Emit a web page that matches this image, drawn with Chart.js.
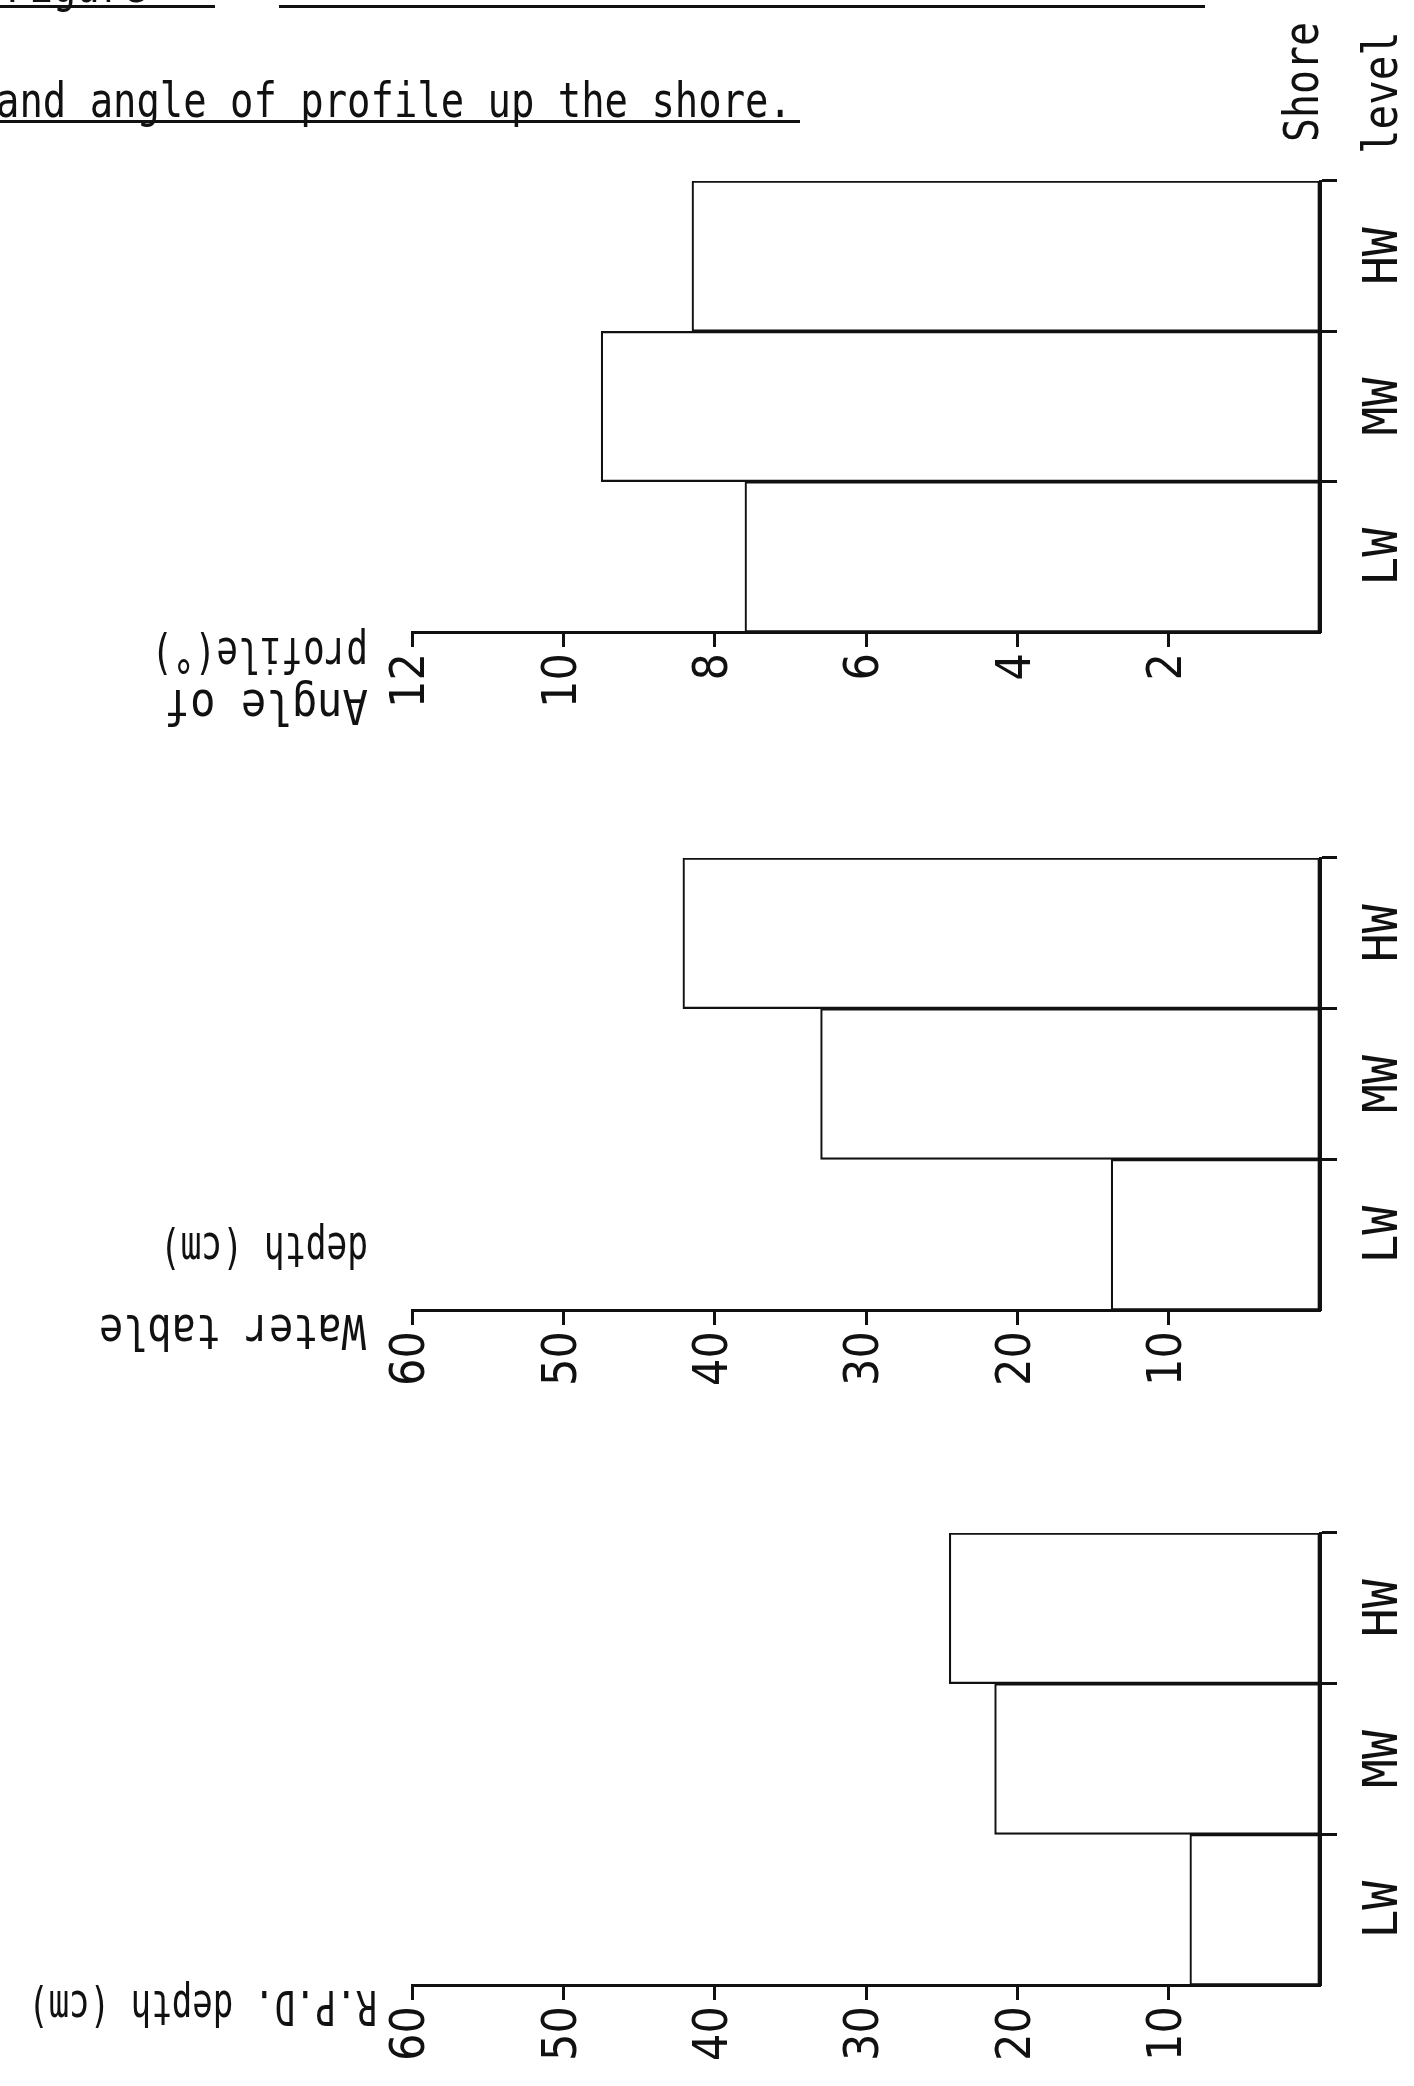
<!DOCTYPE html>
<html>
<head>
<meta charset="utf-8">
<script src="https://cdn.jsdelivr.net/npm/chart.js@4.4.0/dist/chart.umd.min.js"></script>
<style>
  html, body { margin: 0; padding: 0; background: #fff; }
  body { width: 1414px; height: 2086px; position: relative; overflow: hidden; }
  .panel { position: absolute; left: 0; width: 1414px; }
</style>
</head>
<body>
<div class="panel" style="top:0;height:760px"><canvas id="angleChart"></canvas></div>
<div class="panel" style="top:760px;height:680px"><canvas id="waterChart"></canvas></div>
<div class="panel" style="top:1440px;height:646px"><canvas id="rpdChart"></canvas></div>
<script>
// ---- DATA ----
// shore levels, from low water up to high water
const shoreLevels = ["LW", "MW", "HW"];
const angleValues = [7.6, 9.5, 8.3];     // angle of profile (degrees)
const waterValues = [13.8, 33.0, 42.1];  // water table depth (cm)
const rpdValues = [8.6, 21.5, 24.5];     // R.P.D. depth (cm)
const angleTicks = { max: 12, step: 2 };
const depthTicks = { max: 60, step: 10 };

// ---- STYLE ----
const INK = "#111";
const plotFont = "'DejaVu Sans Mono', monospace";
const tickFont = { family: "'Liberation Sans Narrow', 'DejaVu Sans Condensed', sans-serif", size: 48 };

function drawText(ctx, text, x, y, angle, squeeze, align, baseline) {
  ctx.save();
  ctx.translate(x, y);
  ctx.rotate(angle);
  ctx.scale(squeeze, 1);
  ctx.font = "48px " + plotFont;
  ctx.fillStyle = INK;
  ctx.textAlign = align;
  ctx.textBaseline = baseline;
  ctx.fillText(text, 0, 0);
  ctx.restore();
}

// texts: extra labels drawn on top (axis titles, headings); rules: underline bars
function textPlugin(texts, rules) {
  return {
    id: "plotText",
    afterDraw(chart) {
      const ctx = chart.ctx;
      // shore level labels, turned like the rest of the sheet
      const ys = chart.scales.y;
      chart.data.labels.forEach((lab, i) => {
        drawText(ctx, lab, 1397, ys.getPixelForTick(i), -Math.PI / 2, 1, "center", "alphabetic");
      });
      texts.forEach(t => drawText(ctx, t.text, t.x, t.y, t.angle, t.squeeze, t.align, t.baseline));
      ctx.save();
      ctx.fillStyle = INK;
      rules.forEach(r => ctx.fillRect(r[0], r[1], r[2], r[3]));
      ctx.restore();
    }
  };
}

function makeChart(id, values, range, frame, texts, rules) {
  return new Chart(document.getElementById(id), {
    type: "bar",
    data: {
      labels: shoreLevels,
      datasets: [{
        data: values,
        backgroundColor: "rgba(0,0,0,0)",
        borderColor: INK,
        borderWidth: 1.5,
        borderSkipped: false,
        categoryPercentage: 1,
        barPercentage: 1
      }]
    },
    options: {
      indexAxis: "y",
      responsive: true,
      maintainAspectRatio: false,
      animation: false,
      layout: { padding: { left: 412, top: frame.top, right: 0, bottom: 0 } },
      plugins: { legend: { display: false }, tooltip: { enabled: false } },
      scales: {
        x: {
          type: "linear",
          reverse: true,
          min: 0,
          max: range.max,
          position: "bottom",
          ticks: {
            stepSize: range.step,
            minRotation: 90,
            maxRotation: 90,
            padding: 6,
            color: INK,
            font: tickFont,
            callback: v => (v === 0 ? "" : v)
          },
          grid: {
            drawOnChartArea: false,
            drawTicks: true,
            tickLength: 15,
            tickWidth: 3,
            tickColor: c => (c.tick && c.tick.value === 0 ? "rgba(0,0,0,0)" : INK)
          },
          border: { display: true, color: INK, width: 3 },
          afterFit: s => { s.height = frame.xHeight; }
        },
        y: {
          type: "category",
          reverse: true,
          position: "right",
          offset: true,
          ticks: { display: false },
          grid: {
            offset: true,
            drawOnChartArea: false,
            drawTicks: true,
            tickLength: 17,
            tickWidth: 3,
            tickColor: c => (c.index === 0 ? "rgba(0,0,0,0)" : INK)
          },
          border: { display: true, color: INK, width: 3 },
          afterFit: s => { s.width = 94; }
        }
      }
    },
    plugins: [textPlugin(texts, rules)]
  });
}

const UP = -Math.PI / 2;
const FLIP = Math.PI;

makeChart("angleChart", angleValues, angleTicks, { top: 181, xHeight: 128 }, [
  { text: "Figure", x: 6, y: 2, angle: 0, squeeze: 0.81, align: "left", baseline: "alphabetic" },
  { text: "and angle of profile up the shore.", x: -4, y: 117, angle: 0, squeeze: 0.81, align: "left", baseline: "alphabetic" },
  { text: "Shore", x: 1318, y: 142, angle: UP, squeeze: 0.83, align: "left", baseline: "alphabetic" },
  { text: "level", x: 1397, y: 154, angle: UP, squeeze: 0.85, align: "left", baseline: "alphabetic" },
  { text: "Angle of", x: 368, y: 702, angle: FLIP, squeeze: 0.88, align: "left", baseline: "middle" },
  { text: "profile(°)", x: 368, y: 650, angle: FLIP, squeeze: 0.75, align: "left", baseline: "middle" }
], [[0, 5, 215, 3], [279, 5, 926, 3], [0, 120, 800, 3]]);

makeChart("waterChart", waterValues, depthTicks, { top: 98, xHeight: 130 }, [
  { text: "Water table", x: 366, y: 567, angle: FLIP, squeeze: 0.84, align: "left", baseline: "middle" },
  { text: "depth (cm)", x: 368, y: 485, angle: FLIP, squeeze: 0.72, align: "left", baseline: "middle" }
], []);

makeChart("rpdChart", rpdValues, depthTicks, { top: 93, xHeight: 101 }, [
  { text: "R.P.D. depth (cm)", x: 377, y: 563, angle: FLIP, squeeze: 0.71, align: "left", baseline: "middle" }
], []);
</script>
</body>
</html>
